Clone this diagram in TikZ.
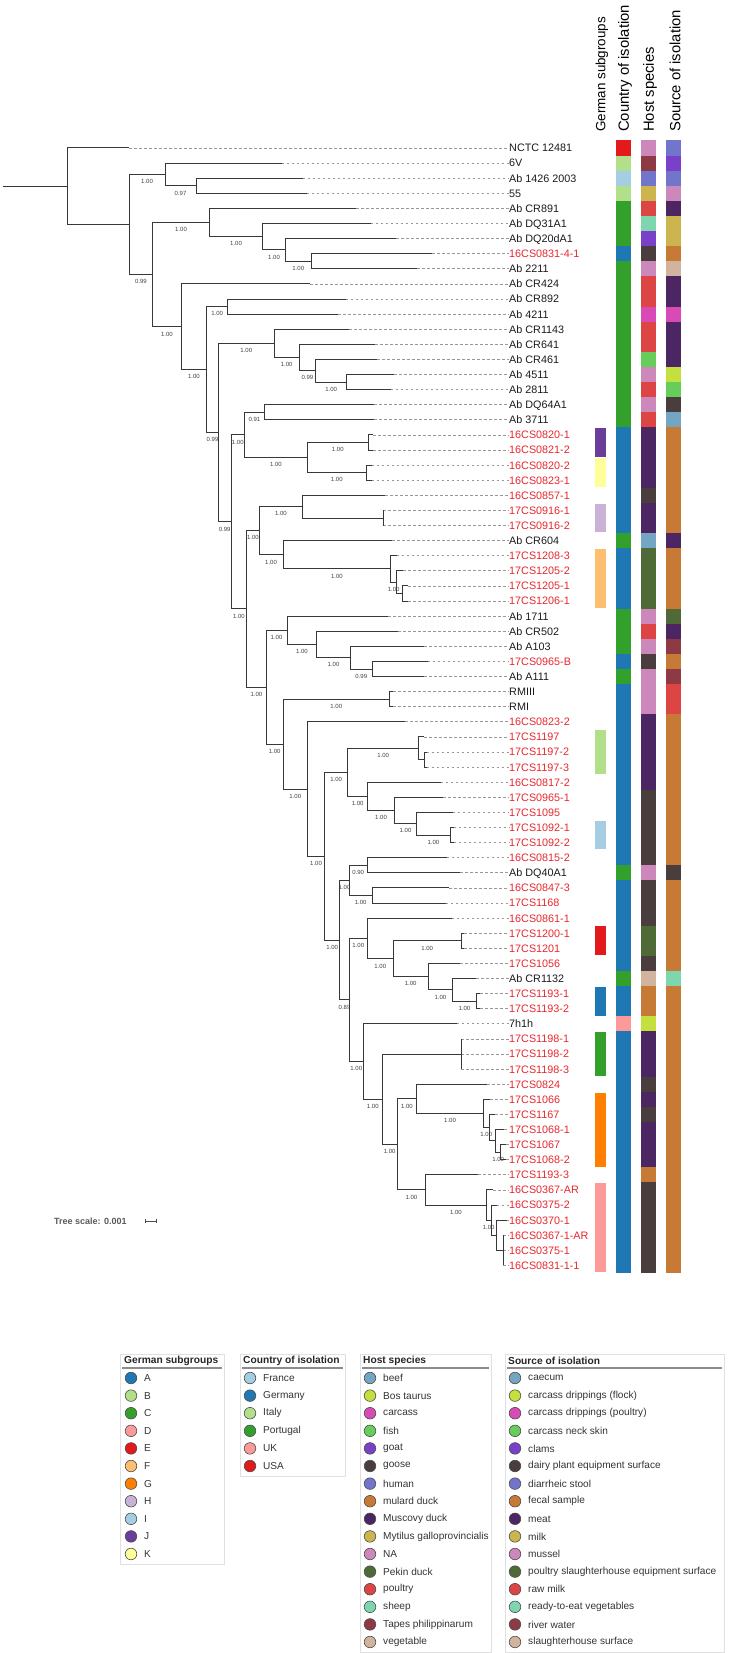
\documentclass[tikz,border=0pt]{standalone}
\usepackage{fontspec}
\setmainfont{Liberation Sans}
\usepackage{xcolor}
\usepackage{tikz}
\usetikzlibrary{arrows.meta}

% paired palette (subgroups / countries)
\definecolor{gA}{HTML}{1F78B4}
\definecolor{gB}{HTML}{B2DF8A}
\definecolor{gC}{HTML}{33A02C}
\definecolor{gD}{HTML}{FB9A99}
\definecolor{gE}{HTML}{E31A1C}
\definecolor{gF}{HTML}{FDBF6F}
\definecolor{gG}{HTML}{FF7F00}
\definecolor{gH}{HTML}{CAB2D6}
\definecolor{gI}{HTML}{A6CEE3}
\definecolor{gJ}{HTML}{6A3D9A}
\definecolor{gK}{HTML}{FFFF99}
\colorlet{cFrance}{gI}
\colorlet{cGermany}{gA}
\colorlet{cItaly}{gB}
\colorlet{cPortugal}{gC}
\colorlet{cUK}{gD}
\colorlet{cUSA}{gE}
% host species palette
\definecolor{hbeef}{HTML}{74A6C3}
\definecolor{hbos}{HTML}{C4E03E}
\definecolor{hcarcass}{HTML}{D84AB6}
\definecolor{hfish}{HTML}{66CC5A}
\definecolor{hgoat}{HTML}{7A40C8}
\definecolor{hgoose}{HTML}{4A3D3D}
\definecolor{hhuman}{HTML}{7275CC}
\definecolor{hmulard}{HTML}{C67A36}
\definecolor{hmuscovy}{HTML}{4B2662}
\definecolor{hmytilus}{HTML}{CCB54E}
\definecolor{hna}{HTML}{CC88BB}
\definecolor{hpekin}{HTML}{4F6A36}
\definecolor{hpoultry}{HTML}{DD4545}
\definecolor{hsheep}{HTML}{7ED6AE}
\definecolor{htapes}{HTML}{8E3A44}
\definecolor{hveg}{HTML}{D2B49E}
% source of isolation (same colours)
\colorlet{scaecum}{hbeef}
\colorlet{sdripflock}{hbos}
\colorlet{sdrippoul}{hcarcass}
\colorlet{sneck}{hfish}
\colorlet{sclams}{hgoat}
\colorlet{sdairy}{hgoose}
\colorlet{sstool}{hhuman}
\colorlet{sfecal}{hmulard}
\colorlet{smeat}{hmuscovy}
\colorlet{smilk}{hmytilus}
\colorlet{smussel}{hna}
\colorlet{spsequip}{hpekin}
\colorlet{srawmilk}{hpoultry}
\colorlet{sready}{hsheep}
\colorlet{sriver}{htapes}
\colorlet{sslaughter}{hveg}
\definecolor{ink}{HTML}{1A1A1A}
\definecolor{strain}{HTML}{E8262D}

\tikzset{
  branch/.style={draw=black!78, line width=1pt},
  guide/.style={draw=black!40, line width=0.7pt, dash pattern=on 2.6pt off 2.4pt},
  leaf/.style={anchor=west, inner sep=0pt, text height=7.8pt, text depth=0pt,
    font=\fontsize{10.8}{12}\selectfont},
  support/.style={anchor=north, inner sep=0pt, yshift=-4.6pt, text=black!75,
    font=\fontsize{6}{6}\selectfont},
  header/.style={rotate=90, anchor=west, inner sep=0pt, font=\fontsize{14.8}{16}\selectfont},
  legbox/.style={draw=black!12, line width=0.8pt},
  legrule/.style={draw=black!45, line width=1.2pt},
  legtitle/.style={anchor=west, inner sep=0pt, text=black!85,
    font=\bfseries\fontsize{10.2}{12}\selectfont},
  legtext/.style={anchor=west, inner sep=0pt, text=black!80, font=\fontsize{10.1}{12}\selectfont},
  legdot/.style={draw=black!70, line width=0.6pt}
}

\begin{document}
\begin{tikzpicture}[x=1pt, y=-1pt]
  \useasboundingbox (0,0) rectangle (730,1653);

  % ── Column headers ──
  \node[header, font=\fontsize{13.4}{15}\selectfont] (hgerman) at (602,132) {German subgroups};
  \node[header] (hcountry) at (625,132) {Country of isolation};
  \node[header] (hhost)    at (650,132) {Host species};
  \node[header] (hsource)  at (675,132) {Source of isolation};

  % ── Leaves: tip, label, guide line ──
  \foreach \i/\tx/\txt/\tc in {
    1/129/NCTC 12481/ink, 2/281.7/6V/ink, 3/302.7/Ab 1426 2003/ink, 4/306.7/55/ink,
    5/356/Ab CR891/ink, 6/370.7/Ab DQ31A1/ink, 7/396/Ab DQ20dA1/ink,
    8/432.3/16CS0831-4-1/strain, 9/417.3/Ab 2211/ink, 10/310/Ab CR424/ink,
    11/345.7/Ab CR892/ink, 12/338.3/Ab 4211/ink, 13/349.3/Ab CR1143/ink,
    14/375/Ab CR641/ink, 15/377.3/Ab CR461/ink, 16/394/Ab 4511/ink,
    17/390.7/Ab 2811/ink, 18/374/Ab DQ64A1/ink, 19/374/Ab 3711/ink,
    20/373/16CS0820-1/strain, 21/373/16CS0821-2/strain, 22/371.5/16CS0820-2/strain,
    23/371.5/16CS0823-1/strain, 24/385/16CS0857-1/strain, 25/383.3/17CS0916-1/strain,
    26/383.3/17CS0916-2/strain, 27/392.3/Ab CR604/ink, 28/396.7/17CS1208-3/strain,
    29/403.3/17CS1205-2/strain, 30/408/17CS1205-1/strain, 31/408/17CS1206-1/strain,
    32/388/Ab 1711/ink, 33/398.3/Ab CR502/ink, 34/424/Ab A103/ink,
    35/427.5/17CS0965-B/strain, 36/424/Ab A111/ink, 37/393/RMIII/ink, 38/393/RMI/ink,
    39/405/16CS0823-2/strain, 40/424/17CS1197/strain, 41/426.5/17CS1197-2/strain,
    42/426.5/17CS1197-3/strain, 43/440.5/16CS0817-2/strain, 44/443.3/17CS0965-1/strain,
    45/452.5/17CS1095/strain, 46/453.5/17CS1092-1/strain, 47/453.5/17CS1092-2/strain,
    48/446.5/16CS0815-2/strain, 49/460/Ab DQ40A1/ink, 50/449/16CS0847-3/strain,
    51/445.5/17CS1168/strain, 52/451.7/16CS0861-1/strain, 53/464/17CS1200-1/strain,
    54/464/17CS1201/strain, 55/460/17CS1056/strain, 56/476/Ab CR1132/ink,
    57/480/17CS1193-1/strain, 58/480/17CS1193-2/strain, 59/456.5/7h1h/ink,
    60/461/17CS1198-1/strain, 61/461/17CS1198-2/strain, 62/461/17CS1198-3/strain,
    63/487.3/17CS0824/strain, 64/490/17CS1066/strain, 65/495/17CS1167/strain,
    66/504/17CS1068-1/strain, 67/506/17CS1067/strain, 68/506/17CS1068-2/strain,
    69/478.3/17CS1193-3/strain, 70/493.3/16CS0367-AR/strain, 71/496.7/16CS0375-2/strain,
    72/506.7/16CS0370-1/strain, 73/503.3/16CS0367-1-AR/strain, 74/503.3/16CS0375-1/strain,
    75/503.3/16CS0831-1-1/strain} {
    \coordinate (t\i) at (\tx, {148+15.1*(\i-1)});
    \node[leaf, text=\tc] (lab\i) at (509, {148+15.1*(\i-1)}) {\txt};
    \draw[guide] (t\i) -- (lab\i.west);
  }

  % ── Internal nodes ──
  \foreach \n/\nx/\ny in {
    N0/67/186.3, A/129/224.6, B/165/174.4, C/196/185.8, D/152.7/274.7,
    E/209.3/222.6, G/262.7/236.7, H/285.3/249.9, I/311.3/261.3, F/181/326.8,
    J/206.7/369.6, K/227.7/306.6, L/218.3/432.6, M/274.3/343.4, N/299/357.5,
    O/315.7/370.7, P/346.7/382.1, S/231/521.9, R/244.5/434.9, Q/264.3/412.3,
    U/307.3/457.6, V/368.3/442.5, W/366.3/472.7, T/246.7/608.9, X/259/530.7,
    Z/302.7/506.6, AB/383.3/518, AA/283/554.8, AC/390.7/568.9, AD/396.7/582.1,
    AE/402.3/593.5, Y/266/687.2, AF/287/630.3, AG/316.7/644.4, AH/350.3/657.6,
    AI/372.3/669, AK/283.3/744.1, AJ/389.3/699.2, AL/307.3/789, AM/324.7/856.2,
    AN/347.7/772.3, AO/418.7/748.2, AOb/424.3/759.6, AP/367.7/796.4, AQ/394.3/810.5,
    AR/416.7/823.7, AS/450/835.1, AT/339.7/940.2, AU/349.3/880.4, AV/367/865.3,
    AW/372/895.5, AX/349.3/999.9, AY/367.3/938.4, AZ/393.3/958.7, BA/461/940.8,
    BB/428/976.6, BC/452.7/989.8, BD/476/1001.2, BE/363.3/1061.5, BF/382.3/1099.2,
    BG/461/1054, BH/397/1144.4, BI/416.7/1098.8, BJ/483.3/1113.5, BK/489.3/1127.6,
    BL/495.7/1140.8, BM/500.7/1152.2, BN/425.7/1189.9, BO/486/1205, BP/491.3/1220.1,
    BQ/496.7/1235.2, BR/503.3/1250.3} {
    \coordinate (\n) at (\nx,\ny);
  }

  % ── Root ──
  \coordinate (rootend) at (3,186.3);
  \draw[branch] (rootend) -- (N0);

  % ── Branches with support values ──
  \foreach \pr/\ch/\bval in {
    N0/t1/{}, N0/A/{}, A/B/1.00, B/t2/{}, B/C/0.97, C/t3/{}, C/t4/{},
    A/D/0.99, D/E/1.00, E/t5/{}, E/G/1.00, G/t6/{}, G/H/1.00, H/t7/{}, H/I/1.00,
    I/t8/{}, I/t9/{}, D/F/1.00, F/t10/{}, F/J/1.00, J/K/1.00, K/t11/{}, K/t12/{},
    J/L/0.99, L/M/1.00, M/t13/{}, M/N/1.00, N/t14/{}, N/O/0.99, O/t15/{}, O/P/1.00,
    P/t16/{}, P/t17/{}, L/S/0.99, S/R/1.00, R/Q/0.91, Q/t18/{}, Q/t19/{},
    R/U/1.00, U/V/1.00, V/t20/{}, V/t21/{}, U/W/1.00, W/t22/{}, W/t23/{},
    S/T/1.00, T/X/1.00, X/Z/1.00, Z/t24/{}, Z/AB/{}, AB/t25/{}, AB/t26/{},
    X/AA/1.00, AA/t27/{}, AA/AC/1.00, AC/t28/{}, AC/AD/1.00, AD/t29/{}, AD/AE/{},
    AE/t30/{}, AE/t31/{}, T/Y/1.00, Y/AF/1.00, AF/t32/{}, AF/AG/1.00, AG/t33/{},
    AG/AH/1.00, AH/t34/{}, AH/AI/0.99, AI/t35/{}, AI/t36/{}, Y/AK/1.00,
    AK/AJ/1.00, AJ/t37/{}, AJ/t38/{}, AK/AL/1.00, AL/t39/{}, AL/AM/1.00,
    AM/AN/1.00, AN/AO/1.00, AO/t40/{}, AO/AOb/{}, AOb/t41/{}, AOb/t42/{},
    AN/AP/1.00, AP/t43/{}, AP/AQ/1.00, AQ/t44/{}, AQ/AR/1.00, AR/t45/{},
    AR/AS/1.00, AS/t46/{}, AS/t47/{}, AM/AT/1.00, AT/AU/1.00, AU/AV/0.90,
    AV/t48/{}, AV/t49/{}, AU/AW/1.00, AW/t50/{}, AW/t51/{}, AT/AX/0.89,
    AX/AY/1.00, AY/t52/{}, AY/AZ/1.00, AZ/BA/1.00, BA/t53/{}, BA/t54/{},
    AZ/BB/1.00, BB/t55/{}, BB/BC/1.00, BC/t56/{}, BC/BD/1.00, BD/t57/{}, BD/t58/{},
    AX/BE/1.00, BE/t59/{}, BE/BF/1.00, BF/BG/{}, BG/t60/{}, BG/t61/{}, BG/t62/{},
    BF/BH/1.00, BH/BI/1.00, BI/t63/{}, BI/BJ/1.00, BJ/t64/{}, BJ/BK/1.00,
    BK/t65/{}, BK/BL/{}, BL/t66/{}, BL/BM/1.00, BM/t67/{}, BM/t68/{},
    BH/BN/1.00, BN/t69/{}, BN/BO/1.00, BO/t70/{}, BO/BP/1.00, BP/t71/{},
    BP/BQ/{}, BQ/t72/{}, BQ/BR/{}, BR/t73/{}, BR/t74/{}, BR/t75/{}} {
    \draw[branch] (\pr) |- node[support, pos=0.75] {\bval} (\ch);
  }

  % ── German subgroups column ──
  \foreach \a/\b/\col in {20/21/gJ, 22/23/gK, 25/26/gH, 28/31/gF, 40/42/gB,
    46/47/gI, 53/54/gE, 57/58/gA, 60/62/gC, 64/68/gG, 70/75/gD} {
    \fill[\col] (595, {141.2+15.1*(\a-1)}) rectangle (606, {154.8+15.1*(\b-1)});
  }

  % ── Country of isolation column ──
  \foreach \a/\b/\col in {1/1/cUSA, 2/2/cItaly, 3/3/cFrance, 4/4/cItaly,
    5/7/cPortugal, 8/8/cGermany, 9/19/cPortugal, 20/26/cGermany, 27/27/cPortugal,
    28/31/cGermany, 32/34/cPortugal, 35/35/cGermany, 36/36/cPortugal,
    37/48/cGermany, 49/49/cPortugal, 50/55/cGermany, 56/56/cPortugal,
    57/58/cGermany, 59/59/cUK, 60/75/cGermany} {
    \fill[\col] (616, {140.45+15.1*(\a-1)}) rectangle (631, {155.55+15.1*(\b-1)});
  }

  % ── Host species column ──
  \foreach \a/\b/\col in {1/1/hna, 2/2/htapes, 3/3/hhuman, 4/4/hmytilus,
    5/5/hpoultry, 6/6/hsheep, 7/7/hgoat, 8/8/hgoose, 9/9/hna, 10/11/hpoultry,
    12/12/hcarcass, 13/14/hpoultry, 15/15/hfish, 16/16/hna, 17/17/hpoultry,
    18/18/hna, 19/19/hpoultry, 20/23/hmuscovy, 24/24/hgoose, 25/26/hmuscovy,
    27/27/hbeef, 28/31/hpekin, 32/32/hna, 33/33/hpoultry, 34/34/hna,
    35/35/hgoose, 36/38/hna, 39/43/hmuscovy, 44/48/hgoose, 49/49/hna,
    50/52/hgoose, 53/54/hpekin, 55/55/hgoose, 56/56/hveg, 57/58/hmulard,
    59/59/hbos, 60/62/hmuscovy, 63/63/hgoose, 64/64/hmuscovy, 65/65/hgoose,
    66/68/hmuscovy, 69/69/hmulard, 70/75/hgoose} {
    \fill[\col] (641, {140.45+15.1*(\a-1)}) rectangle (656, {155.55+15.1*(\b-1)});
  }

  % ── Source of isolation column ──
  \foreach \a/\b/\col in {1/1/sstool, 2/2/sclams, 3/3/sstool, 4/4/smussel,
    5/5/smeat, 6/7/smilk, 8/8/sfecal, 9/9/sslaughter, 10/11/smeat,
    12/12/sdrippoul, 13/15/smeat, 16/16/sdripflock, 17/17/sneck, 18/18/sdairy,
    19/19/scaecum, 20/26/sfecal, 27/27/smeat, 28/31/sfecal, 32/32/spsequip,
    33/33/smeat, 34/34/sriver, 35/35/sfecal, 36/36/sriver, 37/38/srawmilk,
    39/48/sfecal, 49/49/sdairy, 50/55/sfecal, 56/56/sready, 57/75/sfecal} {
    \fill[\col] (666, {140.45+15.1*(\a-1)}) rectangle (681, {155.55+15.1*(\b-1)});
  }

  % ── Tree scale ──
  \node[anchor=west, inner sep=0pt, text=black!65, font=\bfseries\fontsize{9}{10}\selectfont]
    (scaletxt) at (54,1221) {Tree scale: 0.001};
  \coordinate (sbL) at (145,1221);
  \coordinate (sbR) at (156,1221);
  \draw[black!70, line width=0.8pt] (sbL) -- (sbR);
  \draw[black!70, line width=0.8pt] ([yshift=2.2pt]sbL) -- ([yshift=-2.2pt]sbL);
  \draw[black!70, line width=0.8pt] ([yshift=2.2pt]sbR) -- ([yshift=-2.2pt]sbR);

  % ── Legend: German subgroups ──
  \draw[legbox] (120,1354) rectangle (224,1564);
  \node[legtitle] (ltgerman) at (124,1360.4) {German subgroups};
  \draw[legrule] (122,1368) -- (222,1368);
  \foreach \col/\txt [count=\k from 0] in {gA/A, gB/B, gC/C, gD/D, gE/E, gF/F,
    gG/G, gH/H, gI/I, gJ/J, gK/K} {
    \filldraw[legdot, fill=\col] (131, {1378+17.6*\k}) circle[radius=5.8pt];
    \node[legtext] (lg\k) at (144, {1378+17.6*\k}) {\txt};
  }

  % ── Legend: Country of isolation ──
  \draw[legbox] (240,1354) rectangle (345,1476);
  \node[legtitle] (ltcountry) at (243,1360.4) {Country of isolation};
  \draw[legrule] (242,1368) -- (343,1368);
  \foreach \col/\txt [count=\k from 0] in {cFrance/France, cGermany/Germany,
    cItaly/Italy, cPortugal/Portugal, cUK/UK, cUSA/USA} {
    \filldraw[legdot, fill=\col] (250, {1378+17.6*\k}) circle[radius=5.8pt];
    \node[legtext] (lc\k) at (263, {1378+17.6*\k}) {\txt};
  }

  % ── Legend: Host species ──
  \draw[legbox] (360,1354) rectangle (491,1652);
  \node[legtitle] (lthost) at (363,1360.4) {Host species};
  \draw[legrule] (362,1368) -- (489,1368);
  \foreach \col/\txt [count=\k from 0] in {hbeef/beef, hbos/Bos taurus,
    hcarcass/carcass, hfish/fish, hgoat/goat, hgoose/goose, hhuman/human,
    hmulard/mulard duck, hmuscovy/Muscovy duck, hmytilus/Mytilus galloprovincialis,
    hna/NA, hpekin/Pekin duck, hpoultry/poultry, hsheep/sheep,
    htapes/Tapes philippinarum, hveg/vegetable} {
    \filldraw[legdot, fill=\col] (370, {1378+17.6*\k}) circle[radius=5.8pt];
    \node[legtext] (lh\k) at (383, {1378+17.6*\k}) {\txt};
  }

  % ── Legend: Source of isolation ──
  \draw[legbox] (505,1354) rectangle (724,1652);
  \node[legtitle] (ltsource) at (508,1360.4) {Source of isolation};
  \draw[legrule] (507,1368) -- (722,1368);
  \foreach \col/\txt [count=\k from 0] in {scaecum/caecum,
    sdripflock/carcass drippings (flock), sdrippoul/carcass drippings (poultry),
    sneck/carcass neck skin, sclams/clams, sdairy/dairy plant equipment surface,
    sstool/diarrheic stool, sfecal/fecal sample, smeat/meat, smilk/milk,
    smussel/mussel, spsequip/poultry slaughterhouse equipment surface,
    srawmilk/raw milk, sready/ready-to-eat vegetables, sriver/river water,
    sslaughter/slaughterhouse surface} {
    \filldraw[legdot, fill=\col] (515, {1378+17.6*\k}) circle[radius=5.8pt];
    \node[legtext] (ls\k) at (528, {1378+17.6*\k}) {\txt};
  }
\end{tikzpicture}
\end{document}
